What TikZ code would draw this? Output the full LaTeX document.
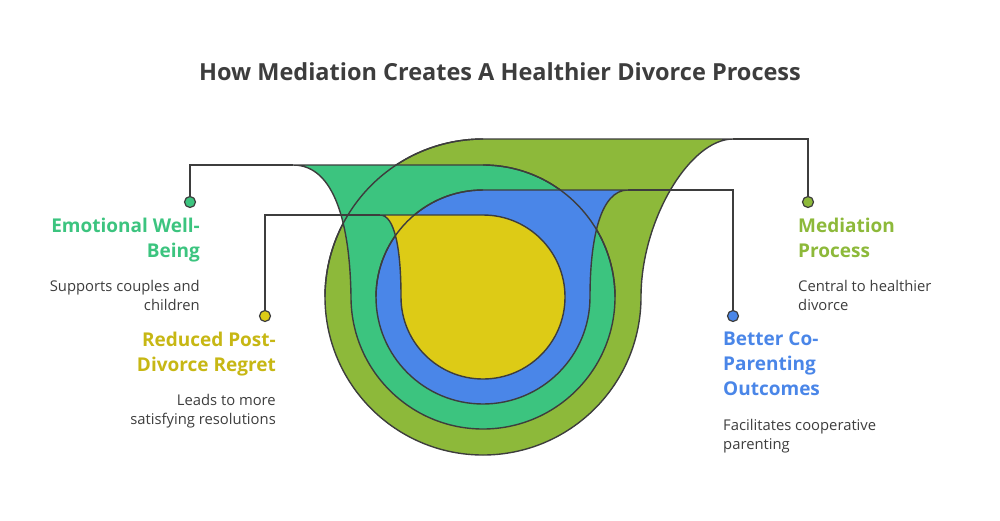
\documentclass[tikz,border=0pt]{standalone}
\usepackage{fontspec}
\setmainfont{Open Sans}
\definecolor{olive}{HTML}{8DB93A}
\definecolor{teal}{HTML}{3CC47F}
\definecolor{bluish}{HTML}{4A86E8}
\definecolor{mustard}{HTML}{DDCB16}
\definecolor{ink}{HTML}{3D3D3D}
\tikzset{
  layer/.style={draw=ink, line width=1.4pt},
  ring/.style={draw=ink, line width=1.4pt},
  link/.style={draw=ink, line width=1.4pt},
  dot/.style={circle, draw=ink, line width=1.2pt, minimum size=11pt, inner sep=0pt},
  head/.style={font=\fontsize{19}{25}\selectfont\bfseries, inner sep=0pt},
  body/.style={font=\fontsize{14.8}{19.5}\selectfont, text=ink, inner sep=0pt}
}
\begin{document}
\begin{tikzpicture}[x=1pt,y=-1pt]
\useasboundingbox (0,0) rectangle (1000,520);
\node [font=\fontsize{23.5}{28}\selectfont\bfseries, text=ink] (title) at (500,72) {How Mediation Creates A Healthier Divorce Process};
% layers, outer to inner
\draw [layer, fill=olive] (641,297) arc (0:180:158) arc (180:270:158) -- (733,139)
  .. controls (690,139) and (641,220) .. (641,297) -- cycle;
\draw [layer, fill=teal] (293,165) -- (483,165) arc (-90:180:132)
  .. controls (350,225) and (335,165) .. (293,165) -- cycle;
\draw [layer, fill=bluish] (590,297) arc (0:180:107) arc (180:270:107) -- (628,190)
  .. controls (600,190) and (590,240) .. (590,297) -- cycle;
\draw [layer, fill=mustard] (380,215) -- (483,215) arc (-90:180:82)
  .. controls (401,250) and (395,215) .. (380,215) -- cycle;
% ring arcs showing through
\draw [ring] (325,297) arc (180:270:158);
\draw [ring] (483,165) arc (270:360:132);
\draw [ring] (376,297) arc (180:270:107);
% connector ends
\coordinate (tealEnd) at (293,165);
\coordinate (mustEnd) at (380,215);
\coordinate (blueEnd) at (628,190);
\coordinate (oliveEnd) at (733,139);
\node [dot, fill=teal] (tealDot) at (190,202) {};
\node [dot, fill=mustard] (mustDot) at (265,316) {};
\node [dot, fill=bluish] (blueDot) at (733,316) {};
\node [dot, fill=olive] (oliveDot) at (808,202) {};
\draw [link] (tealDot) |- (tealEnd);
\draw [link] (mustDot) |- (mustEnd);
\draw [link] (blueDot) |- (blueEnd);
\draw [link] (oliveDot) |- (oliveEnd);
% labels
\node [head, text=teal, anchor=north east, align=right] (tealHead) at (200,218) {Emotional Well-\\Being};
\node [body, anchor=north east, align=right] (tealBody) at (200,280) {Supports couples and\\children};
\node [head, text=mustard!90!black, anchor=north east, align=right] (mustHead) at (276,332) {Reduced Post-\\Divorce Regret};
\node [body, anchor=north east, align=right] (mustBody) at (276,394) {Leads to more\\satisfying resolutions};
\node [head, text=olive, anchor=north west, align=left] (oliveHead) at (798,218) {Mediation\\Process};
\node [body, anchor=north west, align=left] (oliveBody) at (798,280) {Central to healthier\\divorce};
\node [head, text=bluish, anchor=north west, align=left] (blueHead) at (723,332) {Better Co-\\Parenting\\Outcomes};
\node [body, anchor=north west, align=left] (blueBody) at (723,419) {Facilitates cooperative\\parenting};
\end{tikzpicture}
\end{document}
